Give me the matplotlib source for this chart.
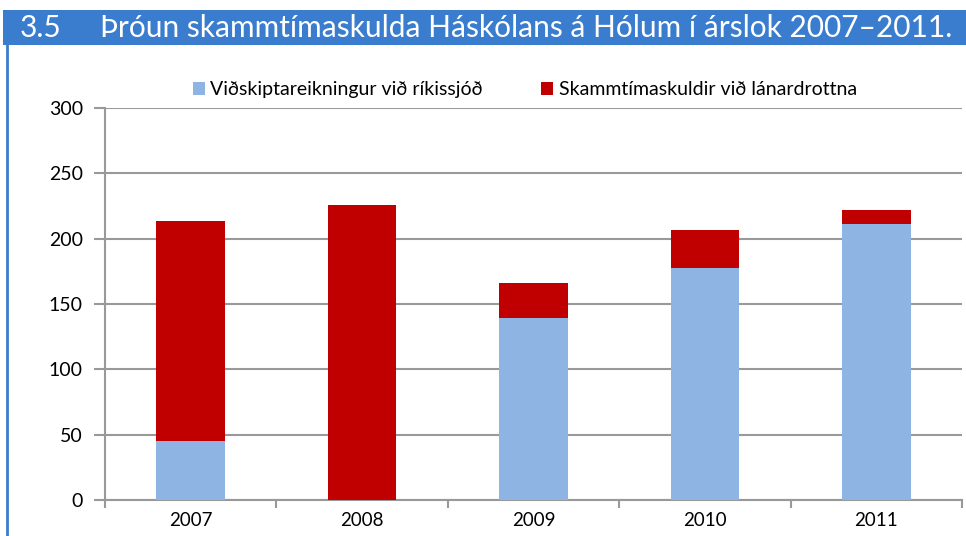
import matplotlib
matplotlib.use("Agg")
import matplotlib.pyplot as plt
import numpy as np
from matplotlib.patches import Rectangle
from matplotlib.lines import Line2D

years = ['2007', '2008', '2009', '2010', '2011']
vidskipta = [45, 0, 139, 177.5, 211.5]
skammtima = [168.5, 225.5, 27, 29, 10.5]
yticks = [0, 50, 100, 150, 200, 250, 300]

label_blue = 'Viðskiptareikningur við ríkissjóð'
label_red = 'Skammtímaskuldir við lánardrottna'
title_num = '3.5'
title = 'Þróun skammtímaskulda Háskólans á Hólum í árslok 2007\u20132011.'

plt.rcParams['font.family'] = ['Lato', 'DejaVu Sans']

W, H = 966, 536
fig = plt.figure(figsize=(W / 100, H / 100), dpi=100)

# title band and left frame line
fig.patches.append(Rectangle((3 / W, 1 - 45 / H), 1, 35 / H, transform=fig.transFigure,
                             facecolor='#3A7DCE', edgecolor='none'))
fig.text(20 / W, 1 - 28 / H, title_num, color='white', fontsize=21.5, va='center', ha='left')
fig.text(100 / W, 1 - 28 / H, title, color='white', fontsize=21.5, va='center', ha='left')
fig.lines.append(Line2D([7 / W, 7 / W], [0, 1 - 45 / H], transform=fig.transFigure,
                        color='#3A7DCE', lw=2))

ax = fig.add_axes([105 / W, 36 / H, 857 / W, 392 / H])
x = np.arange(len(years))
ax.bar(x, vidskipta, 0.4, color='#8EB4E3', label=label_blue, zorder=3)
ax.bar(x, skammtima, 0.4, bottom=vidskipta, color='#C00000', label=label_red, zorder=3)

ax.set_ylim(0, 300)
ax.set_xlim(-0.5, len(years) - 0.5)
ax.set_yticks(yticks)
ax.yaxis.grid(True, color='#999999', lw=1.5, zorder=0)
ax.set_xticks(x)
ax.set_xticklabels(years)
ax.set_xticks(np.arange(len(years) + 1) - 0.5, minor=True)
ax.tick_params(axis='x', which='major', length=0, pad=9, labelsize=13.5)
ax.tick_params(axis='x', which='minor', length=6, width=1.5, color='#999999', direction='out')
ax.tick_params(axis='y', length=8, width=1.5, color='#999999', labelsize=14, pad=8)

for s in ['top', 'right']:
    ax.spines[s].set_visible(False)
for s in ['left', 'bottom']:
    ax.spines[s].set_color('#999999')
    ax.spines[s].set_linewidth(1.5)

ax.legend(loc='lower center', bbox_to_anchor=(0.49, 1.0), ncol=2, frameon=False,
          fontsize=14, handlelength=0.6, handleheight=0.6, handletextpad=0.3,
          columnspacing=3.0, borderaxespad=0.1)

fig.savefig('out.png', dpi=100)
